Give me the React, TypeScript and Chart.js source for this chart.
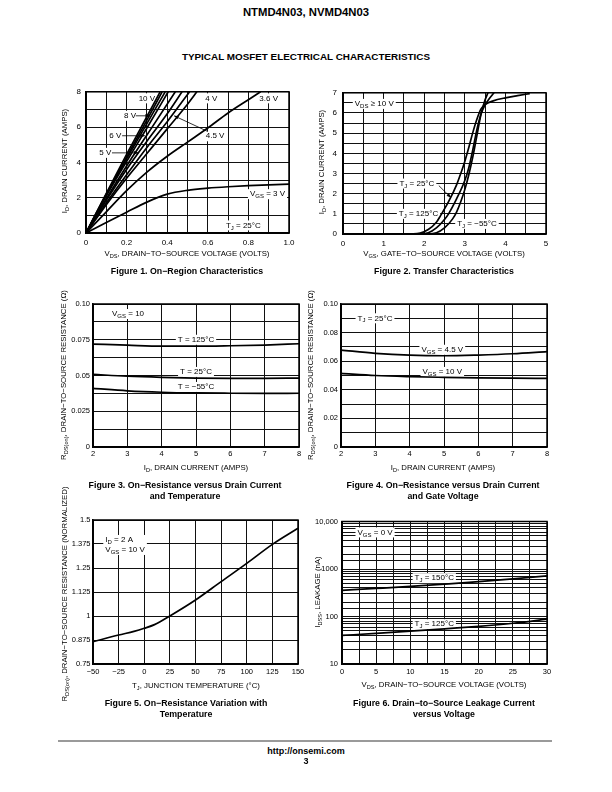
import React, { useEffect, useRef } from 'react';
import { Chart, registerables } from 'chart.js';

Chart.register(...registerables);

const FONT = '"Liberation Sans", Arial, Helvetica, sans-serif';

type Pt = [number, number];
type Rich = Array<[string, boolean?]>;

// ---------- Figure 1: On-Region Characteristics ----------
const fig1XLabels = ['0', '', '0.2', '', '0.4', '', '0.6', '', '0.8', '', '1.0'];
const fig1YLabels = ['0', '', '2', '', '4', '', '6', '', '8'];
const fig1Vgs10: Pt[] = [[0, 0], [0.1, 2.25], [0.2, 4.45], [0.3, 6.6], [0.365, 8]];
const fig1Vgs9: Pt[] = [[0, 0], [0.1, 2.2], [0.2, 4.3], [0.3, 6.4], [0.375, 8]];
const fig1Vgs8: Pt[] = [[0, 0], [0.1, 2.15], [0.2, 4.2], [0.3, 6.2], [0.39, 8]];
const fig1Vgs7: Pt[] = [[0, 0], [0.1, 2.1], [0.2, 4.05], [0.3, 5.95], [0.405, 8]];
const fig1Vgs6: Pt[] = [[0, 0], [0.1, 1.95], [0.2, 3.8], [0.3, 5.55], [0.44, 8]];
const fig1Vgs5: Pt[] = [[0, 0], [0.1, 1.85], [0.2, 3.6], [0.3, 5.2], [0.4, 6.75], [0.473, 8]];
const fig1Vgs45: Pt[] = [[0, 0], [0.1, 1.7], [0.2, 3.3], [0.3, 4.85], [0.4, 6.3], [0.51, 8]];
const fig1Vgs4: Pt[] = [[0, 0], [0.1, 1.6], [0.2, 3.1], [0.3, 4.5], [0.4, 5.9], [0.5, 7.3], [0.546, 8]];
const fig1Vgs36: Pt[] = [[0, 0], [0.1, 1.2], [0.2, 2.4], [0.3, 3.45], [0.4, 4.35], [0.5, 5.15], [0.6, 5.95], [0.7, 6.8], [0.8, 7.55], [0.86, 8]];
const fig1Vgs3: Pt[] = [[0, 0], [0.1, 0.6], [0.2, 1.18], [0.3, 1.75], [0.4, 2.2], [0.5, 2.42], [0.6, 2.54], [0.7, 2.62], [0.8, 2.68], [0.9, 2.73], [1.0, 2.77]];

// ---------- Figure 2: Transfer Characteristics ----------
const fig2XLabels = ['0', '', '1', '', '2', '', '3', '', '4', '', '5'];
const fig2YLabels = ['0', '', '1', '', '2', '', '3', '', '4', '', '5', '', '6', '', '7'];
const fig2Tm55: Pt[] = [[0, 0], [2.0, 0], [2.3, 0.06], [2.5, 0.3], [2.7, 0.75], [2.8, 1.1], [2.9, 1.6], [3.0, 2.2], [3.1, 2.95], [3.2, 3.85], [3.3, 4.9], [3.4, 5.95], [3.5, 6.65], [3.57, 7.0]];
const fig2T25: Pt[] = [[0, 0], [1.8, 0], [2.1, 0.06], [2.3, 0.3], [2.5, 0.72], [2.6, 1.0], [2.8, 1.75], [3.0, 2.65], [3.1, 3.3], [3.2, 4.2], [3.3, 5.2], [3.4, 5.95], [3.5, 6.4], [3.6, 6.7], [3.72, 7.0]];
const fig2T125: Pt[] = [[0, 0], [1.5, 0], [1.9, 0.05], [2.1, 0.22], [2.3, 0.58], [2.4, 0.9], [2.6, 1.6], [2.8, 2.45], [2.9, 3.0], [3.0, 3.6], [3.1, 4.3], [3.2, 5.05], [3.3, 5.7], [3.4, 6.2], [3.5, 6.42], [3.7, 6.6], [4.0, 6.75], [4.3, 6.86], [4.6, 6.96]];

// ---------- Figure 3: On-Resistance vs Drain Current and Temperature ----------
const fig3XLabels = ['2', '3', '4', '5', '6', '7', '8'];
const fig3YLabels = ['0', '', '0.025', '', '0.05', '', '0.075', '', '0.10'];
const fig3T125: Pt[] = [[2, 0.072], [3, 0.0712], [4, 0.0705], [5, 0.0705], [6, 0.0708], [7, 0.0713], [8, 0.0722]];
const fig3T25: Pt[] = [[2, 0.0508], [3, 0.0495], [4, 0.0487], [5, 0.0482], [6, 0.048], [7, 0.048], [8, 0.0482]];
const fig3Tm55: Pt[] = [[2, 0.041], [3, 0.0393], [4, 0.0383], [5, 0.0378], [6, 0.0376], [7, 0.0375], [8, 0.0376]];

// ---------- Figure 4: On-Resistance vs Drain Current and Gate Voltage ----------
const fig4XLabels = ['2', '3', '4', '5', '6', '7', '8'];
const fig4YLabels = ['0', '', '0.02', '', '0.04', '', '0.06', '', '0.08', '', '0.10'];
const fig4Vgs45: Pt[] = [[2, 0.0678], [3, 0.0655], [4, 0.0642], [5, 0.0638], [6, 0.0643], [7, 0.0652], [8, 0.0667]];
const fig4Vgs10: Pt[] = [[2, 0.0515], [3, 0.05], [4, 0.0492], [5, 0.0487], [6, 0.0483], [7, 0.0481], [8, 0.048]];

// ---------- Figure 5: On-Resistance Variation with Temperature ----------
const fig5XLabels = ['\u221250', '\u221225', '0', '25', '50', '75', '100', '125', '150'];
const fig5YLabels = ['0.75', '0.875', '1', '1.125', '1.25', '1.375', '1.5'];
const fig5Rds: Pt[] = [[-50, 0.866], [-25, 0.901], [-10, 0.92], [0, 0.936], [10, 0.955], [25, 1.0], [50, 1.083], [75, 1.179], [100, 1.274], [125, 1.373], [150, 1.457]];

// ---------- Figure 6: Drain-to-Source Leakage Current vs Voltage ----------
const fig6XLabels = ['0', '', '5', '', '10', '', '15', '', '20', '', '25', '', '30'];
const fig6YValues = [10, 100, 1000, 10000];
const fig6YLabels = ['10', '100', '1000', '10,000'];
const fig6T150: Pt[] = [[0, 355], [5, 390], [10, 430], [15, 480], [20, 540], [25, 620], [30, 720]];
const fig6T125: Pt[] = [[0, 40], [5, 44], [10, 49], [15, 55], [20, 62], [25, 72], [30, 88]];

// ---------- chart helpers ----------
interface Note { x: number; y: number; lines: Rich[]; align?: 'left' | 'center'; }
interface Arrow { x1: number; y1: number; x2: number; y2: number; }
interface AxisSpec { type: 'linear' | 'logarithmic'; min: number; max: number; step?: number; labels?: string[]; logValues?: number[]; }
interface Rect { left: number; top: number; width: number; height: number; }
interface ChartSpec {
  rect: Rect; series: Pt[][]; x: AxisSpec; y: AxisSpec; notes: Note[]; arrows: Arrow[];
  tickSize: number; xPad: number; yPad: number;
}

function partsWidth(ctx: CanvasRenderingContext2D, parts: Rich) {
  let w = 0;
  for (const p of parts) {
    ctx.font = `${p[1] ? 6 : 8}px ${FONT}`;
    w += ctx.measureText(p[0]).width;
  }
  return w;
}
function drawParts(ctx: CanvasRenderingContext2D, parts: Rich, x: number, y: number) {
  let cx = x;
  for (const p of parts) {
    const sub = !!p[1];
    ctx.font = `${sub ? 6 : 8}px ${FONT}`;
    ctx.fillText(p[0], cx, sub ? y + 2.5 : y);
    cx += ctx.measureText(p[0]).width;
  }
}

function makeOverlay(notes: Note[], arrows: Arrow[]) {
  return {
    id: 'overlay',
    beforeDatasetsDraw(chart: any) {
      const { ctx, scales } = chart;
      ctx.save();
      ctx.textBaseline = 'middle';
      for (const n of notes) {
        const px = scales.x.getPixelForValue(n.x);
        const py = scales.y.getPixelForValue(n.y);
        const widths = n.lines.map((l) => partsWidth(ctx, l));
        const w = Math.max(...widths);
        const lh = 10;
        const h = n.lines.length * lh;
        const left = n.align === 'left' ? px : px - w / 2;
        const top = py - h / 2;
        ctx.fillStyle = '#fff';
        ctx.fillRect(left - 2, top, w + 4, h);
        ctx.fillStyle = '#000';
        n.lines.forEach((l, i) => {
          const lx = n.align === 'left' ? left : px - widths[i] / 2;
          drawParts(ctx, l, lx, top + lh * i + lh / 2);
        });
      }
      ctx.restore();
    },
    afterDatasetsDraw(chart: any) {
      const { ctx, scales } = chart;
      ctx.save();
      ctx.strokeStyle = '#000';
      ctx.fillStyle = '#000';
      ctx.lineWidth = 0.8;
      for (const a of arrows) {
        const x1 = scales.x.getPixelForValue(a.x1), y1 = scales.y.getPixelForValue(a.y1);
        const x2 = scales.x.getPixelForValue(a.x2), y2 = scales.y.getPixelForValue(a.y2);
        ctx.beginPath();
        ctx.moveTo(x1, y1);
        ctx.lineTo(x2, y2);
        ctx.stroke();
        const ang = Math.atan2(y2 - y1, x2 - x1);
        const L = 4.5, Wd = 1.8;
        ctx.beginPath();
        ctx.moveTo(x2, y2);
        ctx.lineTo(x2 - L * Math.cos(ang) + Wd * Math.sin(ang), y2 - L * Math.sin(ang) - Wd * Math.cos(ang));
        ctx.lineTo(x2 - L * Math.cos(ang) - Wd * Math.sin(ang), y2 - L * Math.sin(ang) + Wd * Math.cos(ang));
        ctx.closePath();
        ctx.fill();
      }
      ctx.restore();
    },
    afterDraw(chart: any) {
      const { ctx, chartArea } = chart;
      ctx.save();
      ctx.strokeStyle = '#000';
      ctx.lineWidth = 1.5;
      ctx.strokeRect(chartArea.left, chartArea.top, chartArea.right - chartArea.left, chartArea.bottom - chartArea.top);
      ctx.restore();
    },
  };
}

function makeScale(a: AxisSpec, axis: 'x' | 'y', size: number, pad: number) {
  return {
    type: a.type,
    min: a.min,
    max: a.max,
    position: axis === 'x' ? 'bottom' : 'left',
    grid: { color: '#111', lineWidth: 1, drawTicks: false },
    border: { display: true, color: '#000', width: 1.5 },
    ticks: {
      stepSize: a.step,
      autoSkip: false,
      maxRotation: 0,
      minRotation: 0,
      padding: pad,
      color: '#000',
      font: { family: FONT, size },
      callback: (v: number, i: number) => {
        if (a.logValues) {
          const k = a.logValues.findIndex((lv) => Math.abs(lv - v) < lv * 1e-6);
          return k >= 0 ? a.labels![k] : '';
        }
        return a.labels ? a.labels[i] ?? '' : String(v);
      },
    },
    afterFit: (s: any) => {
      if (axis === 'x') s.height = 20;
      else s.width = 40;
    },
  };
}

function Plot({ spec }: { spec: ChartSpec }) {
  const ref = useRef<HTMLCanvasElement>(null);
  const W = spec.rect.width + 52;
  const H = spec.rect.height + 28;
  useEffect(() => {
    const cfg: any = {
      type: 'scatter',
      data: {
        datasets: spec.series.map((s) => ({
          data: s.map(([x, y]) => ({ x, y })),
          showLine: true,
          borderColor: '#000',
          borderWidth: 1.7,
          pointRadius: 0,
          pointHoverRadius: 0,
          cubicInterpolationMode: 'monotone',
          fill: false,
        })),
      },
      options: {
        responsive: false,
        animation: false,
        events: [],
        layout: { padding: { top: 8, right: 12, left: 0, bottom: 0 } },
        plugins: { legend: { display: false }, tooltip: { enabled: false } },
        scales: {
          x: makeScale(spec.x, 'x', spec.tickSize, spec.xPad),
          y: makeScale(spec.y, 'y', spec.tickSize, spec.yPad),
        },
      },
      plugins: [makeOverlay(spec.notes, spec.arrows)],
    };
    const chart = new Chart(ref.current as HTMLCanvasElement, cfg);
    return () => chart.destroy();
  }, []);
  return (
    <canvas
      ref={ref}
      width={W}
      height={H}
      style={{ position: 'absolute', left: spec.rect.left - 40, top: spec.rect.top - 8, width: W, height: H }}
    />
  );
}

// ---------- chart specs ----------
const spec1: ChartSpec = {
  rect: { left: 86, top: 90, width: 203, height: 143 },
  series: [fig1Vgs10, fig1Vgs9, fig1Vgs8, fig1Vgs7, fig1Vgs6, fig1Vgs5, fig1Vgs45, fig1Vgs4, fig1Vgs36, fig1Vgs3],
  x: { type: 'linear', min: 0, max: 1, step: 0.1, labels: fig1XLabels },
  y: { type: 'linear', min: 0, max: 8, step: 1, labels: fig1YLabels },
  notes: [
    { x: 0.3, y: 7.63, lines: [[['10 V']]] },
    { x: 0.217, y: 6.64, lines: [[['8 V']]] },
    { x: 0.144, y: 5.51, lines: [[['6 V']]] },
    { x: 0.095, y: 4.54, lines: [[['5 V']]] },
    { x: 0.617, y: 7.63, lines: [[['4 V']]] },
    { x: 0.9, y: 7.63, lines: [[['3.6 V']]] },
    { x: 0.636, y: 5.48, lines: [[['4.5 V']]] },
    { x: 0.894, y: 2.2, lines: [[['V'], ['GS', true], [' = 3 V']]] },
    { x: 0.775, y: 0.43, lines: [[['T'], ['J', true], [' = 25\u00B0C']]] },
  ],
  arrows: [
    { x1: 0.245, y1: 6.64, x2: 0.315, y2: 6.64 },
    { x1: 0.178, y1: 5.51, x2: 0.29, y2: 5.51 },
    { x1: 0.128, y1: 4.54, x2: 0.258, y2: 4.54 },
    { x1: 0.6, y1: 5.75, x2: 0.434, y2: 6.64 },
  ],
  tickSize: 8, xPad: 5, yPad: 5,
};

const spec2: ChartSpec = {
  rect: { left: 343, top: 90, width: 203, height: 144 },
  series: [fig2Tm55, fig2T25, fig2T125],
  x: { type: 'linear', min: 0, max: 5, step: 0.5, labels: fig2XLabels },
  y: { type: 'linear', min: 0, max: 7, step: 0.5, labels: fig2YLabels },
  notes: [
    { x: 0.77, y: 6.45, lines: [[['V'], ['DS', true], [' \u2265 10 V']]] },
    { x: 1.82, y: 2.5, lines: [[['T'], ['J', true], [' = 25\u00B0C']]] },
    { x: 1.86, y: 1.0, lines: [[['T'], ['J', true], [' = 125\u00B0C']]] },
    { x: 3.3, y: 0.5, lines: [[['T'], ['J', true], [' = \u221255\u00B0C']]] },
  ],
  arrows: [{ x1: 2.36, y1: 2.4, x2: 2.66, y2: 1.8 }],
  tickSize: 8, xPad: 5, yPad: 6,
};

const spec3: ChartSpec = {
  rect: { left: 93, top: 304, width: 206, height: 143 },
  series: [fig3T125, fig3T25, fig3Tm55],
  x: { type: 'linear', min: 2, max: 8, step: 1, labels: fig3XLabels },
  y: { type: 'linear', min: 0, max: 0.1, step: 0.0125, labels: fig3YLabels },
  notes: [
    { x: 3.02, y: 0.093, lines: [[['V'], ['GS', true], [' = 10']]] },
    { x: 5.0, y: 0.075, lines: [[['T = 125\u00B0C']]] },
    { x: 5.0, y: 0.0525, lines: [[['T = 25\u00B0C']]] },
    { x: 5.0, y: 0.042, lines: [[['T = \u221255\u00B0C']]] },
  ],
  arrows: [],
  tickSize: 7.5, xPad: 2, yPad: 3,
};

const spec4: ChartSpec = {
  rect: { left: 341, top: 304, width: 206, height: 143 },
  series: [fig4Vgs45, fig4Vgs10],
  x: { type: 'linear', min: 2, max: 8, step: 1, labels: fig4XLabels },
  y: { type: 'linear', min: 0, max: 0.1, step: 0.01, labels: fig4YLabels },
  notes: [
    { x: 2.99, y: 0.09, lines: [[['T'], ['J', true], [' = 25\u00B0C']]] },
    { x: 4.95, y: 0.068, lines: [[['V'], ['GS', true], [' = 4.5 V']]] },
    { x: 4.95, y: 0.0525, lines: [[['V'], ['GS', true], [' = 10 V']]] },
  ],
  arrows: [],
  tickSize: 7.5, xPad: 2, yPad: 3,
};

const spec5: ChartSpec = {
  rect: { left: 93, top: 520, width: 205, height: 144 },
  series: [fig5Rds],
  x: { type: 'linear', min: -50, max: 150, step: 25, labels: fig5XLabels },
  y: { type: 'linear', min: 0.75, max: 1.5, step: 0.125, labels: fig5YLabels },
  notes: [
    { x: -38, y: 1.37, align: 'left', lines: [[['I'], ['D', true], [' = 2 A']], [['V'], ['GS', true], [' = 10 V']]] },
  ],
  arrows: [],
  tickSize: 7.5, xPad: 3.5, yPad: 2.5,
};

const spec6: ChartSpec = {
  rect: { left: 342, top: 521, width: 205, height: 143 },
  series: [fig6T150, fig6T125],
  x: { type: 'linear', min: 0, max: 30, step: 2.5, labels: fig6XLabels },
  y: { type: 'logarithmic', min: 10, max: 10000, labels: fig6YLabels, logValues: fig6YValues },
  notes: [
    { x: 4.84, y: 5890, lines: [[['V'], ['GS', true], [' = 0 V']]] },
    { x: 13.5, y: 641, lines: [[['T'], ['J', true], [' = 150\u00B0C']]] },
    { x: 13.5, y: 68.7, lines: [[['T'], ['J', true], [' = 125\u00B0C']]] },
  ],
  arrows: [],
  tickSize: 7.5, xPad: 3, yPad: 4,
};

// ---------- html text ----------
const Sub = ({ children }: { children: React.ReactNode }) => (
  <span style={{ fontSize: '0.72em', position: 'relative', top: '0.35em' }}>{children}</span>
);

function T({ x, y, size = 7.8, bold = false, rot = false, children }: { x: number; y: number; size?: number; bold?: boolean; rot?: boolean; children: React.ReactNode }) {
  return (
    <div
      style={{
        position: 'absolute', left: x, top: y,
        transform: `translate(-50%, -50%)${rot ? ' rotate(-90deg)' : ''}`,
        fontFamily: FONT, fontSize: size, fontWeight: bold ? 700 : 400,
        whiteSpace: 'nowrap', lineHeight: 1, color: '#000',
      }}
    >
      {children}
    </div>
  );
}

const CAP = 8.8;

export default function App() {
  return (
    <div style={{ position: 'absolute', left: 0, top: 0, width: 612, height: 792, background: '#fff', overflow: 'hidden' }}>
      <T x={306} y={13} size={11.3} bold>NTMD4N03, NVMD4N03</T>
      <T x={306} y={57} size={9.9} bold>TYPICAL MOSFET ELECTRICAL CHARACTERISTICS</T>

      <Plot spec={spec1} />
      <Plot spec={spec2} />
      <Plot spec={spec3} />
      <Plot spec={spec4} />
      <Plot spec={spec5} />
      <Plot spec={spec6} />

      {/* Figure 1 */}
      <T x={65} y={161} rot>I<Sub>D</Sub>, DRAIN CURRENT (AMPS)</T>
      <T x={187} y={254}>V<Sub>DS</Sub>, DRAIN−TO−SOURCE VOLTAGE (VOLTS)</T>
      <T x={187} y={271} size={CAP} bold>Figure 1. On−Region Characteristics</T>

      {/* Figure 2 */}
      <T x={322} y={162} rot>I<Sub>D</Sub>, DRAIN CURRENT (AMPS)</T>
      <T x={444} y={254}>V<Sub>GS</Sub>, GATE−TO−SOURCE VOLTAGE (VOLTS)</T>
      <T x={444} y={271} size={CAP} bold>Figure 2. Transfer Characteristics</T>

      {/* Figure 3 */}
      <T x={64} y={375} rot>R<Sub>DS(on)</Sub>, DRAIN−TO−SOURCE RESISTANCE (Ω)</T>
      <T x={196} y={468}>I<Sub>D</Sub>, DRAIN CURRENT (AMPS)</T>
      <T x={185} y={485} size={CAP} bold>Figure 3. On−Resistance versus Drain Current</T>
      <T x={185} y={496} size={CAP} bold>and Temperature</T>

      {/* Figure 4 */}
      <T x={311} y={375} rot>R<Sub>DS(on)</Sub>, DRAIN−TO−SOURCE RESISTANCE (Ω)</T>
      <T x={443} y={468}>I<Sub>D</Sub>, DRAIN CURRENT (AMPS)</T>
      <T x={443} y={485} size={CAP} bold>Figure 4. On−Resistance versus Drain Current</T>
      <T x={443} y={496} size={CAP} bold>and Gate Voltage</T>

      {/* Figure 5 */}
      <T x={65} y={594} rot>R<Sub>DS(on)</Sub>, DRAIN−TO−SOURCE RESISTANCE (NORMALIZED)</T>
      <T x={196} y={686}>T<Sub>J</Sub>, JUNCTION TEMPERATURE (°C)</T>
      <T x={186} y={703} size={CAP} bold>Figure 5. On−Resistance Variation with</T>
      <T x={186} y={714} size={CAP} bold>Temperature</T>

      {/* Figure 6 */}
      <T x={318} y={592} rot>I<Sub>DSS</Sub>, LEAKAGE (nA)</T>
      <T x={444} y={685}>V<Sub>DS</Sub>, DRAIN−TO−SOURCE VOLTAGE (VOLTS)</T>
      <T x={444} y={703} size={CAP} bold>Figure 6. Drain−to−Source Leakage Current</T>
      <T x={444} y={714} size={CAP} bold>versus Voltage</T>

      {/* footer */}
      <div style={{ position: 'absolute', left: 58, top: 740, width: 494, height: 1.5, background: '#9a9a9a' }} />
      <T x={306} y={751} size={9} bold>http://onsemi.com</T>
      <T x={306} y={761} size={9} bold>3</T>
    </div>
  );
}
